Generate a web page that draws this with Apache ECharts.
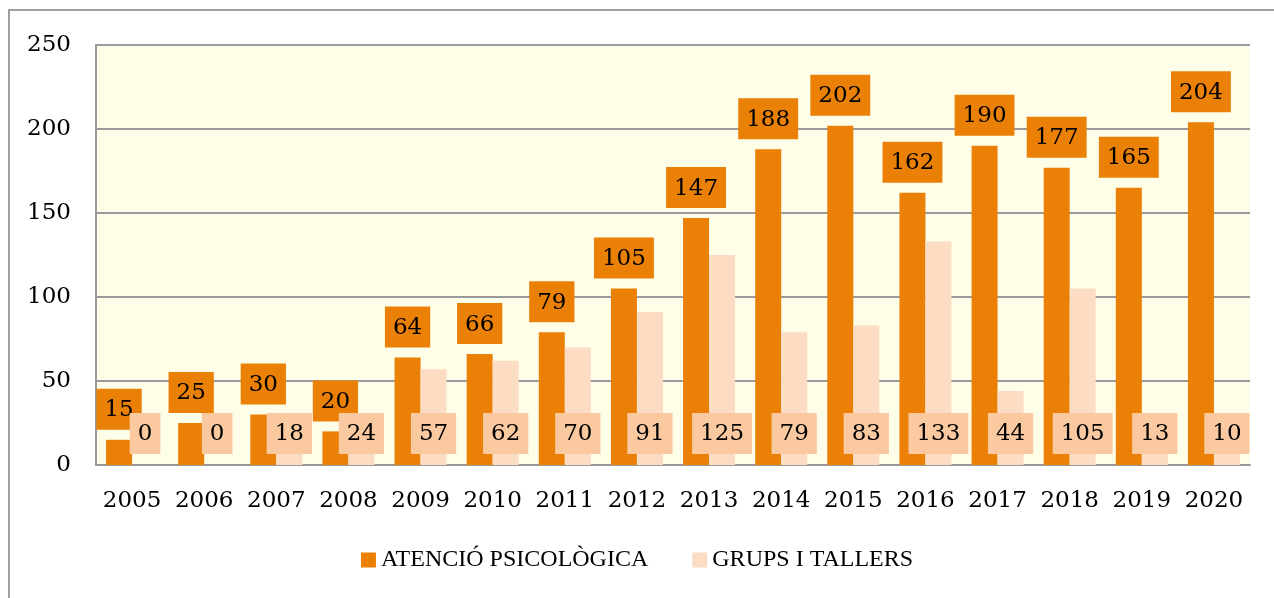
<!DOCTYPE html>
<html>
<head>
<meta charset="utf-8">
<script src="https://cdn.jsdelivr.net/npm/echarts@6/dist/echarts.min.js"></script>
<style>
  html, body { margin: 0; padding: 0; background: #fff; }
  #chart { width: 1274px; height: 598px; }
</style>
</head>
<body>
<div id="chart"></div>
<script>
// anys i valors
const years = ['2005', '2006', '2007', '2008', '2009', '2010', '2011', '2012',
  '2013', '2014', '2015', '2016', '2017', '2018', '2019', '2020']
const atencio = [15, 25, 30, 20, 64, 66, 79, 105, 147, 188, 202, 162, 190, 177, 165, 204]
const grups = [0, 0, 18, 24, 57, 62, 70, 91, 125, 79, 83, 133, 44, 105, 13, 10]
const yTicks = [0, 50, 100, 150, 200, 250]

const numFont = 'DejaVu Serif'
const chart = echarts.init(document.getElementById('chart'))

const option = {
  animation: false,
  backgroundColor: '#fff',
  // marc exterior
  graphic: [{
    type: 'rect',
    shape: { x: 9, y: 10, width: 1300, height: 620 },
    style: { fill: null, stroke: '#a0a0a0', lineWidth: 2 },
    silent: true
  }],
  grid: {
    left: 96, right: 24, top: 45, bottom: 133,
    show: true,
    backgroundColor: '#fefee8',
    borderWidth: 0
  },
  legend: {
    bottom: 21,
    left: 'center',
    itemWidth: 15,
    itemHeight: 15,
    itemGap: 44,
    icon: 'rect',
    textStyle: { fontFamily: 'Liberation Serif', fontSize: 24, color: '#000' }
  },
  xAxis: {
    type: 'category',
    data: years,
    axisLine: { lineStyle: { color: '#9a9a9a', width: 2 } },
    axisTick: { show: false },
    axisLabel: { interval: 0, color: '#000', fontFamily: numFont, fontSize: 23, margin: 25 }
  },
  yAxis: {
    type: 'value',
    min: yTicks[0],
    max: yTicks[yTicks.length - 1],
    interval: 50,
    axisLine: { show: true, lineStyle: { color: '#9a9a9a', width: 2 } },
    axisTick: { show: false },
    splitLine: { lineStyle: { color: '#9a9a9a', width: 2 } },
    axisLabel: { color: '#000', fontFamily: numFont, fontSize: 23, margin: 25 }
  },
  series: [
    {
      name: 'ATENCIÓ PSICOLÒGICA',
      type: 'bar',
      data: atencio,
      barWidth: 26,
      barGap: '0%',
      itemStyle: { color: '#ea8006' },
      label: {
        show: true,
        position: 'top',
        distance: 10,
        color: '#000',
        fontFamily: numFont,
        fontSize: 23,
        backgroundColor: '#ea8006',
        padding: [10, 8, 8, 8]
      }
    },
    {
      name: 'GRUPS I TALLERS',
      type: 'bar',
      data: grups,
      barWidth: 26,
      itemStyle: { color: '#fcdcc2' },
      label: {
        show: true,
        position: 'insideBottom',
        distance: 11,
        color: '#000',
        fontFamily: numFont,
        fontSize: 23,
        backgroundColor: '#fac9a0',
        padding: [10, 8, 8, 8]
      }
    }
  ]
}

chart.setOption(option)
</script>
</body>
</html>
